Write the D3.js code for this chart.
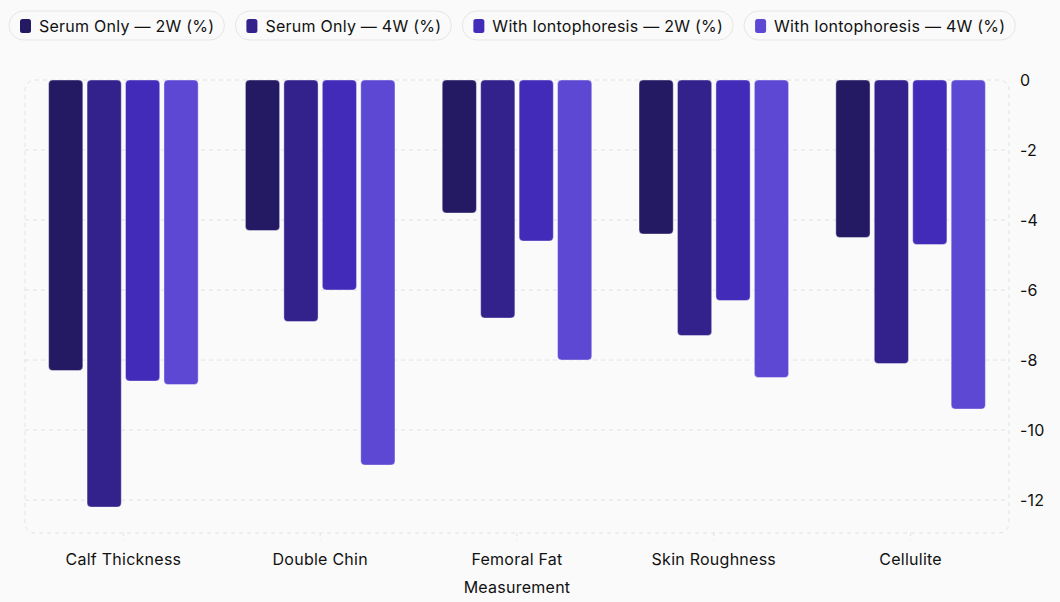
<!DOCTYPE html>
<html>
<head>
<meta charset="utf-8">
<script src="https://cdn.jsdelivr.net/npm/d3@7"></script>
<style>
  html, body { margin: 0; padding: 0; background: #fafafa; }
  body { width: 1060px; height: 602px; overflow: hidden; font-family: Inter, "Noto Sans", sans-serif; }
  svg text { font-family: Inter, "Noto Sans", sans-serif; letter-spacing: 0.25px; }
</style>
</head>
<body>
<svg id="chart" width="1060" height="602"></svg>
<script>
const categories = ['Calf Thickness', 'Double Chin', 'Femoral Fat', 'Skin Roughness', 'Cellulite'];
const seriesNames = ['Serum Only — 2W (%)', 'Serum Only — 4W (%)', 'With Iontophoresis — 2W (%)', 'With Iontophoresis — 4W (%)'];
const serum2W = [-8.3, -4.3, -3.8, -4.4, -4.5];
const serum4W = [-12.2, -6.9, -6.8, -7.3, -8.1];
const ionto2W = [-8.6, -6.0, -4.6, -6.3, -4.7];
const ionto4W = [-8.7, -11.0, -8.0, -8.5, -9.4];
const yTicks = [0, -2, -4, -6, -8, -10, -12];
const colors = ['#241a64', '#33228c', '#432bb9', '#5d48d4'];

const series = [serum2W, serum4W, ionto2W, ionto4W];

const svg = d3.select('#chart');
const plot = { left: 25, right: 1009, top: 80, bottom: 533 };

const x = d3.scaleBand().domain(categories).range([plot.left, plot.right]).paddingInner(0.24).paddingOuter(0.12);
const xs = d3.scaleBand().domain(d3.range(series.length)).range([0, x.bandwidth()]).paddingInner(0.11);
const y = d3.scaleLinear().domain([0, -12.94]).range([plot.top, plot.bottom]);

// plot frame
svg.append('rect')
  .attr('x', plot.left).attr('y', plot.top)
  .attr('width', plot.right - plot.left).attr('height', plot.bottom - plot.top)
  .attr('rx', 10)
  .attr('fill', 'none').attr('stroke', '#e2e2e2').attr('stroke-dasharray', '4 4');

// gridlines
svg.append('g').selectAll('line')
  .data(yTicks.filter(d => d !== 0))
  .join('line')
  .attr('x1', plot.left).attr('x2', plot.right)
  .attr('y1', d => y(d)).attr('y2', d => y(d))
  .attr('stroke', '#e2e2e2').attr('stroke-dasharray', '4 4');

// y axis on right
const yAxis = svg.append('g')
  .attr('transform', `translate(${plot.right},0)`)
  .call(d3.axisRight(y).tickValues(yTicks).tickFormat(d => `${d}`).tickSize(0).tickPadding(11));
yAxis.select('.domain').remove();
yAxis.selectAll('text').attr('font-size', 16).attr('fill', '#111').attr('dy', '0.32em');

// x axis
const xAxis = svg.append('g')
  .attr('transform', `translate(0,${plot.bottom})`)
  .call(d3.axisBottom(x).tickSize(7).tickPadding(14));
xAxis.select('.domain').remove();
xAxis.selectAll('.tick line').attr('stroke', '#e2e2e2').attr('stroke-dasharray', '3 3');
xAxis.selectAll('text').attr('font-size', 16).attr('fill', '#111');

svg.append('text')
  .attr('x', (plot.left + plot.right) / 2).attr('y', 593)
  .attr('text-anchor', 'middle').attr('font-size', 16).attr('fill', '#111')
  .text('Measurement');

// bars
const groups = svg.append('g').selectAll('g')
  .data(categories)
  .join('g')
  .attr('transform', d => `translate(${x(d)},0)`);

groups.selectAll('rect')
  .data((c, ci) => series.map((s, si) => ({ si, v: s[ci] })))
  .join('rect')
  .attr('x', d => xs(d.si))
  .attr('width', xs.bandwidth())
  .attr('y', y(0))
  .attr('height', d => y(d.v) - y(0))
  .attr('rx', 4)
  .attr('fill', d => colors[d.si])
  .attr('stroke', '#ffffff').attr('stroke-opacity', 0.4).attr('stroke-width', 1);

// legend pills
const legend = svg.append('g');
let lx = 9;
seriesNames.forEach((name, i) => {
  const g = legend.append('g').attr('transform', `translate(${lx},11)`);
  const t = g.append('text')
    .attr('x', 30).attr('y', 15).attr('dy', '0.35em')
    .attr('font-size', 16).attr('fill', '#111')
    .text(name);
  const w = t.node().getComputedTextLength() + 40;
  g.insert('rect', 'text')
    .attr('width', w).attr('height', 29).attr('rx', 14.5)
    .attr('fill', '#fafafa').attr('stroke', '#e6e6e6');
  g.append('rect')
    .attr('x', 11).attr('y', 8).attr('width', 11).attr('height', 14).attr('rx', 2.5)
    .attr('fill', colors[i]);
  lx += w + 11;
});
</script>
</body>
</html>
